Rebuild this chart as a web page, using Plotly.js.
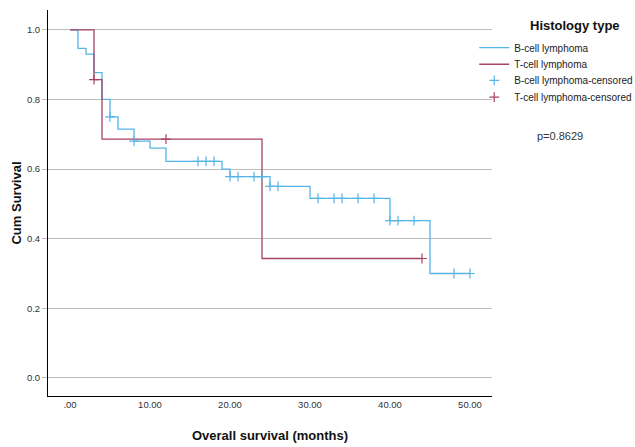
<!DOCTYPE html>
<html>
<head>
<meta charset="utf-8">
<script src="https://cdn.plot.ly/plotly-3.0.1.min.js"></script>
<style>html,body{margin:0;padding:0;background:#fff;}#chart{width:635px;height:447px;}</style>
</head>
<body>
<div id="chart"></div>
<script>
// B-cell lymphoma: event times (months) and cumulative survival after each step
const bTime = [0, 1, 2, 3, 4, 5, 6, 8, 10, 12, 19, 20, 25, 30, 40, 45, 50];
const bSurv = [1.0, 0.947, 0.93, 0.877, 0.80, 0.75, 0.715, 0.68, 0.66, 0.622, 0.60, 0.578, 0.55, 0.516, 0.452, 0.30, 0.30];
// T-cell lymphoma
const tTime = [0, 3, 4, 24, 44];
const tSurv = [1.0, 0.857, 0.686, 0.343, 0.343];
// censored observation times
const bCens = [5, 8, 16, 17, 18, 20, 21, 23, 24, 25, 26, 31, 33, 34, 36, 38, 40, 41, 43, 48, 50];
const tCens = [3, 12, 44];
const xTicks = [0, 10, 20, 30, 40, 50];
const xTickText = ['.00', '10.00', '20.00', '30.00', '40.00', '50.00'];
const yTicks = [0, 0.2, 0.4, 0.6, 0.8, 1.0];
const yTickText = ['0.0', '0.2', '0.4', '0.6', '0.8', '1.0'];

function survAt(times, surv, t) {
  let v = surv[0];
  for (let i = 0; i < times.length; i++) { if (times[i] <= t) v = surv[i]; }
  return v;
}

const blue = '#55B5E6';
const red = '#A7426A';
const font = 'Liberation Sans, Arial, sans-serif';

const traces = [
  {x: bTime, y: bSurv, mode: 'lines', line: {shape: 'hv', color: blue, width: 1.3}, name: 'B-cell lymphoma', legend: 'legend'},
  {x: tTime, y: tSurv, mode: 'lines', line: {shape: 'hv', color: red, width: 1.3}, name: 'T-cell lymphoma', legend: 'legend2'},
  {x: bCens, y: bCens.map(t => survAt(bTime, bSurv, t)), mode: 'markers',
   marker: {symbol: 'cross-thin', size: 7, line: {color: blue, width: 1.2}, color: blue}, name: 'B-cell lymphoma-censored', legend: 'legend3'},
  {x: tCens, y: tCens.map(t => survAt(tTime, tSurv, t)), mode: 'markers',
   marker: {symbol: 'cross-thin', size: 7, line: {color: red, width: 1.2}, color: red}, name: 'T-cell lymphoma-censored', legend: 'legend4'}
];

function leg(y) {
  return {x: 0.96, y: y, xanchor: 'left', yanchor: 'top', font: {size: 10, color: '#222'},
    tracegroupgap: 0, itemwidth: 30, bgcolor: 'rgba(0,0,0,0)', visible: true};
}

const layout = {
  width: 635, height: 447,
  margin: {l: 48, r: 143, t: 10, b: 51, autoexpand: false},
  paper_bgcolor: '#fff', plot_bgcolor: '#fff',
  font: {family: font, color: '#333'},
  showlegend: true,
  legend: leg(0.940), legend2: leg(0.897), legend3: leg(0.855), legend4: leg(0.812),
  xaxis: {range: [-2.75, 52.75], tickvals: xTicks, ticktext: xTickText, showgrid: false, zeroline: false,
    showline: true, linecolor: '#000', linewidth: 1, ticks: '', tickfont: {size: 9.5, color: '#333'},
    title: {text: '<b>Overall survival (months)</b>', font: {size: 13, color: '#111'}, standoff: 21}},
  yaxis: {range: [-0.052, 1.057], tickvals: yTicks, ticktext: yTickText, showgrid: true, gridcolor: '#BDBDBD', gridwidth: 1,
    zeroline: false, showline: true, linecolor: '#000', linewidth: 1, ticks: 'outside', ticklen: 5, tickcolor: '#BDBDBD',
    tickfont: {size: 9.5, color: '#333'},
    title: {text: '<b>Cum Survival</b>', font: {size: 13, color: '#111'}, standoff: 2}},
  annotations: [
    {xref: 'paper', yref: 'paper', x: 1.187, y: 0.961, xanchor: 'center', yanchor: 'middle',
     text: '<b>Histology type</b>', showarrow: false, font: {size: 13, color: '#111'}},
    {xref: 'paper', yref: 'paper', x: 1.097, y: 0.674, xanchor: 'left', yanchor: 'middle',
     text: 'p=0.8629', showarrow: false, font: {size: 11, color: '#333'}}
  ]
};

Plotly.newPlot('chart', traces, layout, {displayModeBar: false, staticPlot: true});
</script>
</body>
</html>
